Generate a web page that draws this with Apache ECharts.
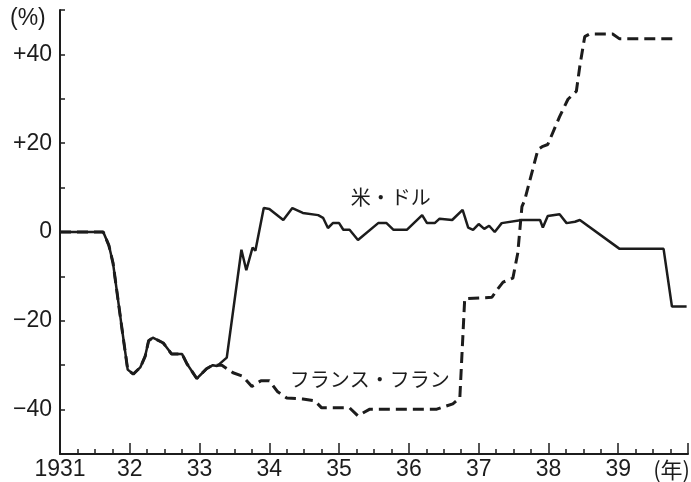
<!DOCTYPE html>
<html>
<head>
<meta charset="utf-8">
<script src="https://cdn.jsdelivr.net/npm/echarts@6/dist/echarts.min.js"></script>
<style>
  html, body { margin: 0; padding: 0; background: #fff; }
  #chart { width: 691px; height: 482px; }
</style>
</head>
<body>
<div id="chart"></div>
<script>
// 米・ドル (実線)  [年, %]
const dollarData = [
  [1931.0, 0], [1931.62, 0], [1931.7, -3], [1931.76, -7], [1931.89, -22], [1931.97, -31],
  [1932.05, -32], [1932.15, -30.5], [1932.22, -28], [1932.27, -24.5], [1932.33, -23.8],
  [1932.48, -25], [1932.6, -27.5], [1932.75, -27.5], [1932.82, -29.7], [1932.96, -33],
  [1933.1, -30.8], [1933.19, -30], [1933.25, -30.2], [1933.39, -28.3], [1933.6, -4],
  [1933.67, -8.6], [1933.76, -3.5], [1933.8, -4.2], [1933.92, 5.4], [1934.0, 5.2],
  [1934.2, 2.7], [1934.33, 5.4], [1934.48, 4.3], [1934.7, 3.8], [1934.77, 3.2],
  [1934.84, 0.9], [1934.91, 2], [1935.0, 2], [1935.06, 0.5], [1935.15, 0.5],
  [1935.27, -1.8], [1935.56, 2], [1935.68, 2], [1935.78, 0.5], [1935.97, 0.5],
  [1936.19, 3.8], [1936.26, 2], [1936.37, 2], [1936.44, 3], [1936.62, 2.7],
  [1936.77, 5], [1936.85, 1], [1936.92, 0.5], [1937.0, 1.8], [1937.08, 0.7],
  [1937.15, 1.4], [1937.23, 0], [1937.33, 2], [1937.62, 2.7], [1937.88, 2.7],
  [1937.92, 1], [1937.99, 3.6], [1938.16, 4], [1938.26, 2], [1938.38, 2.3],
  [1938.45, 2.7], [1939.02, -3.8], [1939.65, -3.8], [1939.77, -16.8], [1939.98, -16.8]
];

// フランス・フラン (破線)  [年, %]
const francData = [
  [1931.0, 0], [1931.62, 0], [1931.7, -3], [1931.76, -7], [1931.89, -22], [1931.97, -31],
  [1932.05, -32], [1932.15, -30.5], [1932.22, -28], [1932.27, -24.5], [1932.33, -23.8],
  [1932.48, -25], [1932.6, -27.5], [1932.75, -27.5], [1932.82, -29.7], [1932.96, -33],
  [1933.1, -30.8], [1933.19, -30], [1933.32, -30], [1933.48, -31.7], [1933.62, -32.5],
  [1933.75, -34.8], [1933.88, -33.5], [1934.0, -33.5], [1934.12, -36], [1934.25, -37.4],
  [1934.48, -37.6], [1934.65, -38], [1934.75, -39.6], [1935.15, -39.6], [1935.27, -41.4],
  [1935.44, -39.9], [1936.4, -39.9], [1936.63, -38.7], [1936.73, -37.4], [1936.8, -15],
  [1936.85, -15], [1937.19, -14.7], [1937.26, -13.1], [1937.35, -11.3], [1937.49, -10.4],
  [1937.56, -4.8], [1937.62, 5.7], [1937.66, 7.2], [1937.85, 18.6], [1937.92, 19.3],
  [1937.99, 19.7], [1938.16, 26], [1938.28, 29.9], [1938.4, 31.7], [1938.45, 37.4],
  [1938.52, 44], [1938.59, 44.6], [1938.92, 44.6], [1939.02, 43.5], [1939.78, 43.5]
];

// 目盛ラベル
const yTickLabels = { '40': '+40', '20': '+20', '0': '0', '-20': '\u221220', '-40': '\u221240' };
const xTickLabels = { 1931: '1931', 1932: '32', 1933: '33', 1934: '34', 1935: '35',
                      1936: '36', 1937: '37', 1938: '38', 1939: '39' };

const ink = '#1c1c1c';
const numFont = '"Liberation Sans", Arial, sans-serif';
const jpFont = '"Noto Sans CJK JP", sans-serif';

const chart = echarts.init(document.getElementById('chart'));

chart.setOption({
  backgroundColor: '#fff',
  animation: false,
  grid: { left: 60, right: 3, top: 10, bottom: 28 },
  xAxis: {
    type: 'value',
    min: 1931,
    max: 1940,
    interval: 1,
    axisLine: { onZero: false, lineStyle: { color: ink, width: 2 } },
    axisTick: { inside: true, length: 11, lineStyle: { color: ink, width: 1.5 } },
    minorTick: { show: true, splitNumber: 4, length: 5, lineStyle: { color: ink, width: 1.5 } },
    splitLine: { show: false },
    axisLabel: {
      color: ink,
      fontSize: 23,
      fontFamily: numFont,
      margin: 4,
      showMaxLabel: true,
      formatter: v => xTickLabels[Math.round(v)] || ''
    }
  },
  yAxis: {
    type: 'value',
    min: -50,
    max: 50,
    interval: 10,
    axisLine: { show: true, onZero: false, lineStyle: { color: ink, width: 2 } },
    axisTick: { show: true, inside: true, length: 5, lineStyle: { color: ink, width: 1.5 } },
    splitLine: { show: false },
    axisLabel: {
      color: ink,
      fontSize: 23,
      fontFamily: numFont,
      margin: 8,
      formatter: v => yTickLabels[String(v)] || ''
    }
  },
  graphic: [
    { type: 'text', left: 10, top: 7,
      style: { text: '(%)', fill: ink, font: '23px ' + numFont } },
    { type: 'text', right: 1, bottom: 1,
      style: { text: '(年)', fill: ink, font: '22px ' + jpFont } }
  ],
  series: [
    {
      name: 'フランス・フラン',
      type: 'line',
      data: francData,
      showSymbol: false,
      lineStyle: { color: ink, width: 3, type: [11, 6] },
      markPoint: {
        symbol: 'circle',
        symbolSize: 1,
        itemStyle: { color: 'transparent' },
        label: { show: true, position: 'inside', color: ink, fontSize: 20, fontFamily: jpFont,
                 formatter: 'フランス・フラン' },
        data: [{ coord: [1935.44, -33.2] }]
      }
    },
    {
      name: '米・ドル',
      type: 'line',
      data: dollarData,
      showSymbol: false,
      lineStyle: { color: ink, width: 2.5 },
      markPoint: {
        symbol: 'circle',
        symbolSize: 1,
        itemStyle: { color: 'transparent' },
        label: { show: true, position: 'inside', color: ink, fontSize: 20, fontFamily: jpFont,
                 formatter: '米・ドル' },
        data: [{ coord: [1935.74, 7.8] }]
      }
    }
  ]
});

window.addEventListener('resize', () => {
  chart.resize();
});
</script>
</body>
</html>
